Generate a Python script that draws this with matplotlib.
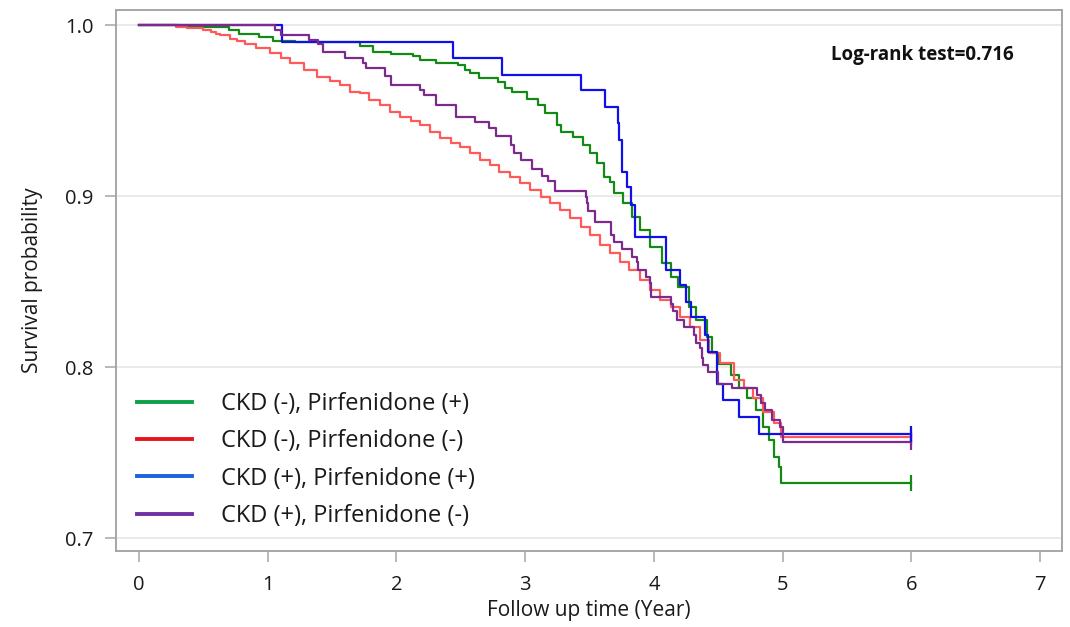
import matplotlib
matplotlib.use("Agg")
import matplotlib.pyplot as plt
from matplotlib.lines import Line2D

plt.rcParams['font.family'] = ['Open Sans', 'DejaVu Sans']

# ---------------- data ----------------
end_time = 6.0

green_t = [0, 0.32, 0.49, 0.70, 0.78, 0.93, 1.04, 1.21, 1.72, 1.82, 1.96, 2.13, 2.18,
           2.31, 2.48, 2.53, 2.57, 2.64, 2.79, 2.84, 2.90, 3.01, 3.10, 3.15, 3.25, 3.28,
           3.37, 3.45, 3.50, 3.56, 3.61, 3.66, 3.69, 3.76, 3.83, 3.89, 3.97, 4.06, 4.13,
           4.19, 4.27, 4.33, 4.41, 4.45, 4.50, 4.60, 4.66, 4.72, 4.79, 4.85, 4.89, 4.93,
           4.97, 4.99]
green_s = [1.0, 0.9996, 0.999, 0.997, 0.995, 0.993, 0.9906, 0.9898, 0.9877, 0.9844, 0.983,
           0.9819, 0.9795, 0.978, 0.9766, 0.9737, 0.9717, 0.9688, 0.9669, 0.963, 0.961,
           0.957, 0.953, 0.9484, 0.9415, 0.9376, 0.9343, 0.930, 0.925, 0.9193, 0.9113,
           0.9084, 0.9016, 0.8957, 0.8879, 0.880, 0.8704, 0.8606, 0.8528, 0.847, 0.8353,
           0.8275, 0.8177, 0.808, 0.802, 0.7953, 0.7875, 0.7817, 0.7749, 0.7651, 0.7573,
           0.7476, 0.7417, 0.732]

red_t = [0, 0.29, 0.37, 0.50, 0.56, 0.60, 0.63, 0.71, 0.76, 0.82, 0.91, 1.02, 1.10, 1.17,
         1.28, 1.38, 1.48, 1.56, 1.64, 1.72, 1.79, 1.87, 1.95, 2.03, 2.11, 2.18, 2.26,
         2.34, 2.42, 2.49, 2.57, 2.65, 2.73, 2.80, 2.88, 2.96, 3.04, 3.12, 3.19, 3.27,
         3.35, 3.43, 3.50, 3.58, 3.66, 3.74, 3.81, 3.89, 3.97, 4.05, 4.13, 4.20, 4.28,
         4.36, 4.43, 4.51, 4.62, 4.70, 4.77, 4.85, 4.93, 4.99]
red_s = [1.0, 0.999, 0.998, 0.997, 0.996, 0.995, 0.994, 0.992, 0.9906, 0.9887, 0.9863,
         0.9834, 0.9805, 0.9776, 0.9737, 0.9698, 0.967, 0.9649, 0.961, 0.960, 0.9561,
         0.9532, 0.9493, 0.9464, 0.944, 0.9415, 0.9376, 0.9337, 0.9308, 0.9289, 0.925,
         0.921, 0.9181, 0.9142, 0.9113, 0.9074, 0.9035, 0.8996, 0.8957, 0.8918, 0.887,
         0.882, 0.8772, 0.8715, 0.8665, 0.8616, 0.8567, 0.8509, 0.845, 0.8392, 0.8353,
         0.8294, 0.8236, 0.8158, 0.808, 0.8022, 0.7924, 0.7875, 0.7817, 0.7739, 0.767,
         0.7593]

blue_t = [0, 1.11, 2.44, 2.82, 3.43, 3.62, 3.72, 3.73, 3.75, 3.79, 3.82, 3.85, 4.09, 4.20,
          4.25, 4.29, 4.40, 4.42, 4.49, 4.54, 4.66, 4.82]
blue_s = [1.0, 0.990, 0.981, 0.971, 0.962, 0.952, 0.943, 0.933, 0.914, 0.905, 0.895,
          0.876, 0.857, 0.848, 0.838, 0.829, 0.819, 0.809, 0.790, 0.781, 0.771, 0.761]

purple_t = [0, 1.06, 1.10, 1.32, 1.39, 1.43, 1.60, 1.74, 1.76, 1.91, 1.96, 2.18, 2.21,
            2.31, 2.46, 2.61, 2.72, 2.77, 2.89, 2.91, 2.97, 3.05, 3.13, 3.18, 3.23, 3.47,
            3.48, 3.49, 3.54, 3.67, 3.69, 3.75, 3.83, 3.87, 3.88, 3.94, 3.97, 3.98, 4.13,
            4.15, 4.18, 4.23, 4.31, 4.33, 4.36, 4.37, 4.38, 4.42, 4.50, 4.61, 4.80, 4.83,
            4.86, 4.92, 4.98, 5.00]
purple_s = [1.0, 0.997, 0.994, 0.991, 0.989, 0.984, 0.981, 0.978, 0.975, 0.970, 0.965,
            0.962, 0.959, 0.953, 0.946, 0.9435, 0.9395, 0.935, 0.930, 0.925, 0.921, 0.916,
            0.912, 0.909, 0.903, 0.8996, 0.8957, 0.891, 0.885, 0.877, 0.873, 0.869, 0.8645,
            0.8616, 0.8567, 0.8528, 0.849, 0.841, 0.837, 0.833, 0.8275, 0.8236, 0.8187,
            0.8138, 0.811, 0.805, 0.801, 0.797, 0.790, 0.7875, 0.7836, 0.779, 0.775, 0.769,
            0.765, 0.756]

labels = ["CKD (-), Pirfenidone (+)", "CKD (-), Pirfenidone (-)",
          "CKD (+), Pirfenidone (+)", "CKD (+), Pirfenidone (-)"]
line_colors = ["#138a13", "#ff5a5a", "#1010e8", "#7d2a8e"]
legend_colors = ["#0ea04a", "#e8141c", "#1a62e0", "#7030a0"]

x_ticks = [0, 1, 2, 3, 4, 5, 6, 7]
y_ticks = [0.7, 0.8, 0.9, 1.0]
y_ticklabels = ["0.7", "0.8", "0.9", "1.0"]
logrank_text = "Log-rank test=0.716"

# ---------------- figure ----------------
W, H = 1070, 627
fig = plt.figure(figsize=(W / 100, H / 100), dpi=100)
ax_l, ax_r, ax_t, ax_b = 116, 1062, 10, 551
ax = fig.add_axes([ax_l / W, 1 - ax_b / H, (ax_r - ax_l) / W, (ax_b - ax_t) / H])

series = [(green_t, green_s), (red_t, red_s), (blue_t, blue_s), (purple_t, purple_s)]
order = [1, 3, 0, 2]  # drawing order (red below, blue on top)
for i in order:
    t, s = series[i]
    tt = list(t) + [end_time]
    ss = list(s) + [s[-1]]
    ax.step(tt, ss, where='post', color=line_colors[i], lw=1.6, zorder=3 + i * 0.1)
    ax.plot([end_time], [s[-1]], marker='|', ms=11, mew=1.6, color=line_colors[i],
            zorder=4)

ax.set_xlim(-0.179, 7.17)
ax.set_ylim(0.6924, 1.0088)
ax.set_xticks(x_ticks)
ax.set_yticks(y_ticks)
ax.set_yticklabels(y_ticklabels)
ax.grid(axis='y', color='#e6e6e6', lw=1.2, zorder=0)
ax.set_axisbelow(True)

for sp in ax.spines.values():
    sp.set_color('#a6a6a6')
    sp.set_linewidth(1.4)
ax.tick_params(axis='both', direction='out', length=8, width=1.1, color='#a6a6a6',
               labelcolor='#1a1a1a')
ax.tick_params(axis='y', pad=8, labelsize=14.5)
ax.tick_params(axis='x', pad=9, labelsize=14.5)

ax.set_xlabel("Follow up time (Year)", fontsize=15, color='#1a1a1a', labelpad=4)
ax.set_ylabel("Survival probability", fontsize=15, color='#1a1a1a', labelpad=16)

ax.text((922 - ax_l) / (ax_r - ax_l), 1 - (55 - ax_t) / (ax_b - ax_t), logrank_text,
        transform=ax.transAxes, ha='center', va='center', fontsize=13.5,
        fontweight='bold', color='#111111')

handles = [Line2D([], [], color=c, lw=2.8) for c in legend_colors]
fig.legend(handles, labels, loc='center left', bbox_to_anchor=(137 / W, 1 - 460 / H),
           frameon=False, fontsize=17, handlelength=2.35, handletextpad=1.2,
           labelspacing=0.56, borderpad=0, borderaxespad=0, labelcolor='#1a1a1a')

fig.savefig("out.png", dpi=100, facecolor='white')
